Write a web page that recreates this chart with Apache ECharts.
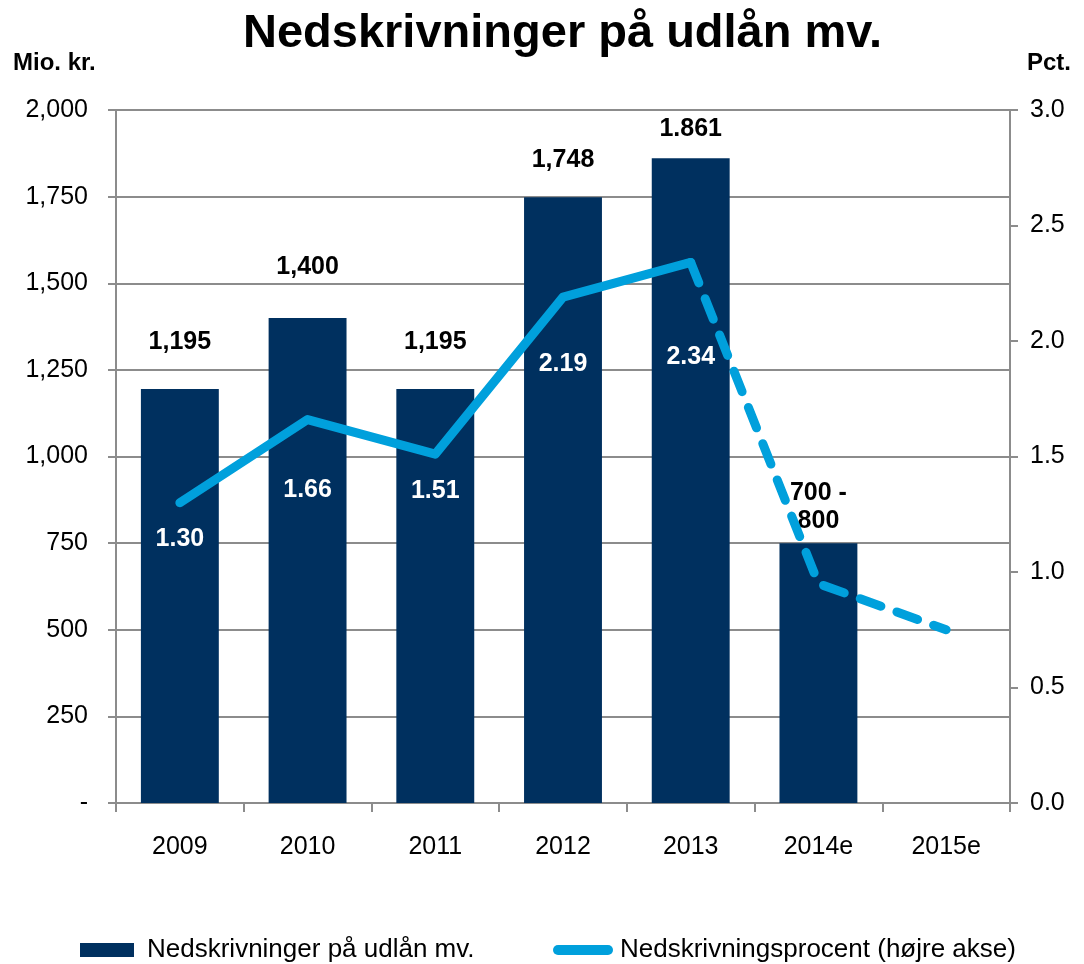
<!DOCTYPE html>
<html><head><meta charset="utf-8">
<script src="https://cdn.jsdelivr.net/npm/echarts@6/dist/echarts.min.js"></script>
<style>html,body{margin:0;padding:0;background:#fff}#c{width:1084px;height:964px}</style>
</head><body><div id="c"></div>
<script>
var categories = ["2009","2010","2011","2012","2013","2014e","2015e"];
var impairments = [1195, 1400, 1195, 1748, 1861, 750, null];
var impairmentLabels = ["1,195","1,400","1,195","1,748","1.861","700 -\n800",""];
var ratioActual = [1.30, 1.66, 1.51, 2.19, 2.34, null, null];
var ratioForecast = [null, null, null, null, 2.34, 0.95, 0.75];
var ratioLabels = ["1.30","1.66","1.51","2.19","2.34","",""];
var leftTicks = {min: 0, max: 2000, interval: 250};
var rightTicks = {min: 0, max: 3, interval: 0.5};

var barLabelDist = [33, 37, 33, 23, 15, 8, 0];
var lineLabelDist = [23, 58, 24, 54, 82, 0, 0];

var FONT = "Liberation Sans, Arial, sans-serif";
var chart = echarts.init(document.getElementById('c'));
var barData = impairments.map(function(v, i){
  return v == null ? '-' : {value: v, label: {distance: barLabelDist[i]}};
});
var lineData = ratioActual.map(function(v, i){
  return v == null ? '-' : {value: v, label: {distance: lineLabelDist[i]}};
});
var BAR_NAME = "Nedskrivninger på udlån mv.";
var LINE_NAME = "Nedskrivningsprocent (højre akse)";
chart.setOption({
  animation: false,
  textStyle: {fontFamily: FONT},
  title: [
    {text: "Nedskrivninger på udlån mv.", left: 238, top: 6,
     textStyle: {fontSize: 47, fontWeight: 'bold', color: '#000', fontFamily: FONT}},
    {text: "Mio. kr.", left: 8, top: 46, textStyle: {fontSize: 24, fontWeight: 'bold', color: '#000', fontFamily: FONT}},
    {text: "Pct.", right: 8, top: 46, textStyle: {fontSize: 24, fontWeight: 'bold', color: '#000', fontFamily: FONT}}
  ],
  grid: {left: 116, right: 74, top: 110, bottom: 161, containLabel: false},
  legend: [
    {bottom: -4, left: 75, itemWidth: 54, itemHeight: 14,
     textStyle: {fontSize: 26, color: '#000', fontFamily: FONT, padding: [0, 0, 0, 8]},
     data: [{name: BAR_NAME, icon: 'rect'}]},
    {bottom: -4, left: 548, itemWidth: 60, itemHeight: 11,
     textStyle: {fontSize: 26, color: '#000', fontFamily: FONT, padding: [0, 0, 0, 2]},
     data: [{name: LINE_NAME, icon: 'path://M5,0 L55,0 A5,5 0 0 1 55,10 L5,10 A5,5 0 0 1 5,0 Z', itemStyle: {color: '#00A0DC'}}]}
  ],
  xAxis: {
    type: 'category', data: categories, boundaryGap: true,
    axisLine: {lineStyle: {color: '#8c8c8c', width: 2}},
    axisTick: {show: true, length: 9, lineStyle: {color: '#8c8c8c', width: 2}},
    axisLabel: {fontSize: 25, color: '#000', margin: 32, fontFamily: FONT}
  },
  yAxis: [
    {type: 'value', min: leftTicks.min, max: leftTicks.max, interval: leftTicks.interval,
     axisLine: {show: true, lineStyle: {color: '#8c8c8c', width: 2}},
     axisTick: {show: true, length: 8, lineStyle: {color: '#8c8c8c', width: 2}},
     splitLine: {lineStyle: {color: '#8c8c8c', width: 2}},
     axisLabel: {fontSize: 25, color: '#000', margin: 28, fontFamily: FONT,
       formatter: function(v){ return v === 0 ? '-' : v.toLocaleString('en-US'); }}},
    {type: 'value', min: rightTicks.min, max: rightTicks.max, interval: rightTicks.interval, position: 'right',
     axisLine: {show: true, lineStyle: {color: '#8c8c8c', width: 2}},
     axisTick: {show: true, length: 8, lineStyle: {color: '#8c8c8c', width: 2}},
     splitLine: {show: false},
     axisLabel: {fontSize: 25, color: '#000', margin: 20, fontFamily: FONT,
       formatter: function(v){ return v.toFixed(1); }}}
  ],
  series: [
    {name: BAR_NAME, type: 'bar', data: barData, barWidth: '61%',
     itemStyle: {color: '#00305F'},
     label: {show: true, position: 'top', fontSize: 25, fontWeight: 'bold', color: '#000', fontFamily: FONT,
       lineHeight: 28,
       formatter: function(p){ return impairmentLabels[p.dataIndex]; }}},
    {name: LINE_NAME, type: 'line', yAxisIndex: 1, data: lineData,
     showSymbol: true, symbol: 'circle', symbolSize: 1, z: 5,
     lineStyle: {color: '#00A0DC', width: 9, cap: 'round', join: 'round'},
     itemStyle: {color: '#00A0DC'},
     label: {show: true, position: 'bottom', fontSize: 25, fontWeight: 'bold', color: '#fff', fontFamily: FONT,
       formatter: function(p){ return ratioLabels[p.dataIndex]; }}},
    {name: "forecast", type: 'line', yAxisIndex: 1, data: ratioForecast,
     showSymbol: false, symbol: 'none', z: 5,
     lineStyle: {color: '#00A0DC', width: 9, type: [22, 17], cap: 'round', join: 'round'},
     itemStyle: {color: '#00A0DC'}}
  ]
});
</script></body></html>
